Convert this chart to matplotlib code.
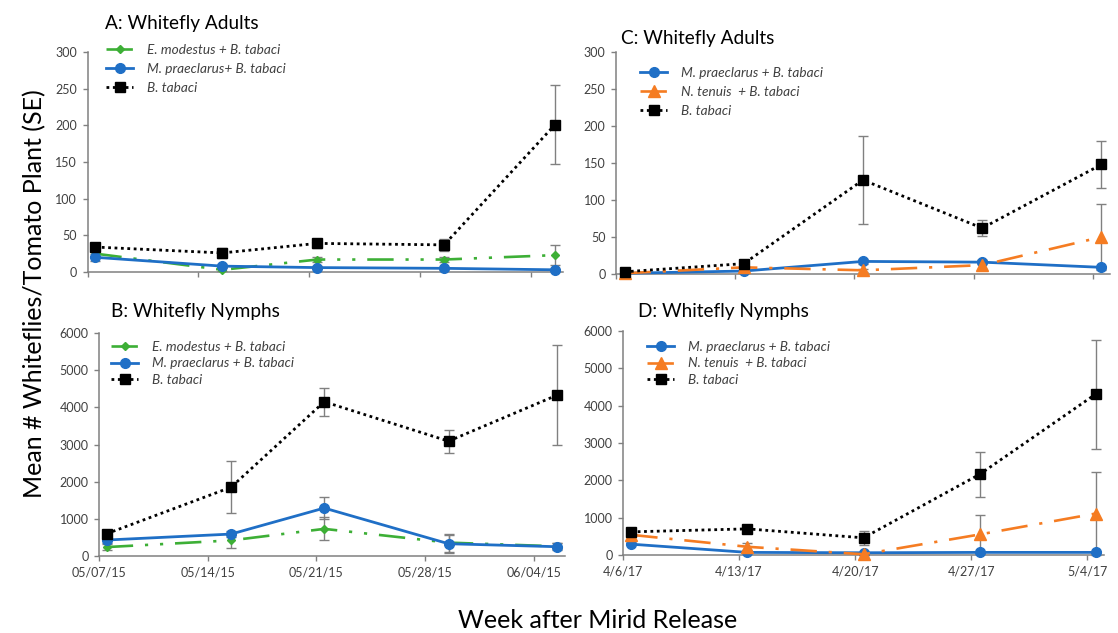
import datetime as dt
import matplotlib.pyplot as plt
import matplotlib.dates as mdates

plt.rcParams['font.family'] = ['Lato', 'DejaVu Sans']

# sampling dates and axis tick labels
dates_2015 = ['2015-05-07', '2015-05-15', '2015-05-21', '2015-05-29', '2015-06-05']
ticks_2015 = ['05/07/15', '05/14/15', '05/21/15', '05/28/15', '06/04/15']
dates_2017 = ['2017-04-06', '2017-04-13', '2017-04-20', '2017-04-27', '2017-05-04']
ticks_2017 = ['4/6/17', '4/13/17', '4/20/17', '4/27/17', '5/4/17']

# A: whitefly adults 2015
a_emod = [25, 3, 17, 17, 23]
a_emod_se = [3, 2, 3, 3, 14]
a_mprae = [20, 8, 6, 5, 3]
a_mprae_se = [5, 3, 2, 2, 1]
a_btab = [34, 26, 39, 37, 201]
a_btab_se = [3, 7, 6, 8, 54]

# B: whitefly nymphs 2015
b_emod = [240, 420, 730, 360, 260]
b_emod_se = [80, 200, 310, 240, 80]
b_mprae = [430, 590, 1290, 330, 250]
b_mprae_se = [70, 80, 290, 240, 100]
b_btab = [600, 1850, 4150, 3090, 4330]
b_btab_se = [60, 700, 370, 310, 1350]

# C: whitefly adults 2017
c_mprae = [1, 4, 17, 16, 9]
c_mprae_se = [1, 1, 3, 3, 2]
c_nten = [1, 9, 5, 12, 50]
c_nten_se = [1, 2, 2, 7, 45]
c_btab = [3, 14, 127, 62, 148]
c_btab_se = [2, 5, 59, 11, 32]

# D: whitefly nymphs 2017
d_mprae = [290, 70, 60, 70, 70]
d_mprae_se = [30, 20, 20, 20, 20]
d_nten = [540, 220, 20, 550, 1110]
d_nten_se = [60, 100, 30, 520, 1120]
d_btab = [620, 700, 460, 2160, 4310]
d_btab_se = [40, 60, 180, 600, 1460]

W, H = 1118, 633

green = dict(color='#3DAF36', lw=1.9, ls=(0, (10, 4.5, 1.2, 4.5, 1.2, 4.5)),
             marker='D', ms=3.8)
blue = dict(color='#1F6FC6', lw=2.0, ls='-', marker='o', ms=7)
orange = dict(color='#F57C22', lw=1.9, ls=(0, (10, 4.5, 1.2, 4.5)),
              marker='^', ms=8)
black = dict(color='black', lw=2.0, ls=(0, (1, 1.3)), marker='s', ms=7.5)


def px_box(x0, y0, x1, y1):
    return [x0 / W, 1 - y1 / H, (x1 - x0) / W, (y1 - y0) / H]


def panel(box, dates, ticks, series, ymax, ystep, title, title_xy, leg_xy,
          leg_space, show_xlabels):
    ax = fig.add_axes(px_box(*box))
    x = [mdates.date2num(dt.datetime.strptime(d, '%Y-%m-%d')) + 0.5 for d in dates]
    tx = [mdates.date2num(dt.datetime.strptime(t, '%m/%d/%y')) for t in ticks]
    for vals, se, label, style in series:
        ax.errorbar(x, vals, yerr=se, fmt='none', ecolor='#808080', elinewidth=1,
                    capsize=3.5, capthick=1, zorder=2, clip_on=False)
        ax.plot(x, vals, label=label, zorder=3, clip_on=False, **style)
    ax.set_xlim(tx[0], x[-1] + 0.5)
    ax.set_ylim(0, ymax)
    ax.set_yticks(range(0, ymax + 1, ystep))
    ax.set_xticks(tx)
    if show_xlabels:
        ax.set_xticklabels(ticks)
    else:
        ax.set_xticklabels([])
    for s in ['top', 'right']:
        ax.spines[s].set_visible(False)
    for s in ['left', 'bottom']:
        ax.spines[s].set_color('#808080')
        ax.spines[s].set_linewidth(1.1)
    ax.tick_params(length=3.5, width=1, color='#808080', labelsize=9,
                   labelcolor='#404040', pad=4)
    fig.text(title_xy[0] / W, 1 - title_xy[1] / H, title, fontsize=13.7,
             va='baseline', ha='left')
    ax.legend(loc='upper left', bbox_to_anchor=(leg_xy[0] / W, 1 - leg_xy[1] / H),
              bbox_transform=fig.transFigure, frameon=False, borderpad=0,
              borderaxespad=0, handlelength=2.0, handletextpad=1.0,
              labelspacing=leg_space, numpoints=1,
              prop={'style': 'italic', 'size': 9.8}, labelcolor='#404040')
    return ax


fig = plt.figure(figsize=(W / 100, H / 100), dpi=100)

panel((87.5, 52, 563, 272), dates_2015, ticks_2015,
      [(a_emod, a_emod_se, 'E. modestus + B. tabaci', green),
       (a_mprae, a_mprae_se, 'M. praeclarus+ B. tabaci', blue),
       (a_btab, a_btab_se, 'B. tabaci', black)],
      300, 50, 'A: Whitefly Adults', (105, 29), (106, 44), 0.5, False)

panel((99, 333, 565, 556), dates_2015, ticks_2015,
      [(b_emod, b_emod_se, 'E. modestus + B. tabaci', green),
       (b_mprae, b_mprae_se, 'M. praeclarus + B. tabaci', blue),
       (b_btab, b_btab_se, 'B. tabaci', black)],
      6000, 1000, 'B: Whitefly Nymphs', (111, 317), (111, 341), 0.32, True)

panel((616, 52, 1110, 274), dates_2017, ticks_2017,
      [(c_mprae, c_mprae_se, 'M. praeclarus + B. tabaci', blue),
       (c_nten, c_nten_se, 'N. tenuis  + B. tabaci', orange),
       (c_btab, c_btab_se, 'B. tabaci', black)],
      300, 50, 'C: Whitefly Adults', (621, 44), (640, 67), 0.5, False)

panel((623, 331, 1104, 555), dates_2017, ticks_2017,
      [(d_mprae, d_mprae_se, 'M. praeclarus + B. tabaci', blue),
       (d_nten, d_nten_se, 'N. tenuis  + B. tabaci', orange),
       (d_btab, d_btab_se, 'B. tabaci', black)],
      6000, 1000, 'D: Whitefly Nymphs', (638, 317), (647, 341), 0.32, True)

fig.text(35 / W, 1 - 294 / H, 'Mean # Whiteflies/Tomato Plant (SE)', rotation=90,
         fontsize=18, ha='center', va='center')
fig.text(598 / W, 1 - 620 / H, 'Week after Mirid Release', fontsize=18,
         ha='center', va='center')

fig.savefig('out.png', dpi=100, facecolor='white')
